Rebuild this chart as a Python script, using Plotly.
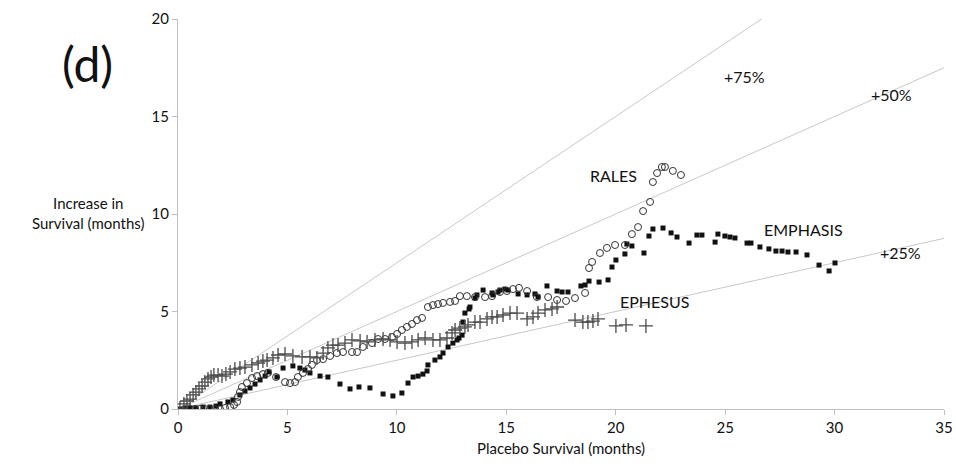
import plotly.graph_objects as go

# EMPHASIS (filled squares)
emph_x = [0.09, 0.32, 0.55, 0.82, 1.14, 1.46, 1.74, 1.92, 2.28, 2.51, 2.83, 3.06, 3.29, 3.52, 3.75, 3.98, 4.16,
          4.52, 4.80, 5.25, 5.57, 5.80, 6.03, 6.49, 6.85, 7.40, 7.86, 8.27, 8.77, 9.37, 9.82, 10.23, 10.51, 10.74,
          10.97, 11.19, 11.38, 11.42, 11.74, 11.97, 12.11, 12.34, 12.56, 12.75, 12.84, 12.98, 13.02, 13.11, 13.30,
          13.34, 13.57, 13.66, 13.94, 14.35, 14.39, 14.62, 14.71, 14.94, 15.08, 15.54, 15.95, 16.31, 16.45, 16.86,
          17.32, 17.55, 17.82, 18.41, 18.60, 18.78, 19.24, 19.65, 19.83, 20.01, 20.42, 20.51, 20.74, 21.29, 21.52,
          21.70, 22.16, 22.53, 22.80, 23.35, 23.71, 23.94, 24.54, 24.67, 24.99, 25.22, 25.45, 26.00, 26.18, 26.59,
          27.00, 27.32, 27.60, 27.87, 28.24, 28.74, 29.29, 29.75, 30.02]
emph_y = [0.0, 0.05, 0.05, 0.05, 0.1, 0.1, 0.15, 0.26, 0.36, 0.46, 0.72, 0.92, 1.08, 1.28, 1.49, 1.69, 1.90,
          1.64, 2.10, 2.21, 2.10, 2.00, 1.85, 1.69, 1.64, 1.28, 1.03, 1.13, 1.08, 0.77, 0.67, 0.82, 1.33, 1.64,
          1.69, 1.79, 1.95, 2.26, 2.51, 2.67, 2.87, 3.18, 3.38, 3.54, 3.64, 3.79, 4.46, 4.92, 5.13,
          5.23, 5.69, 5.85, 6.10, 5.95, 5.85, 6.00, 6.10, 6.15, 6.10, 5.90, 5.85, 5.90, 5.74, 6.31,
          6.05, 6.00, 6.00, 6.31, 6.36, 6.56, 6.51, 6.62, 7.28, 7.64, 7.95, 8.46, 8.36, 8.00, 8.87,
          9.23, 9.28, 9.03, 8.82, 8.51, 8.92, 8.92, 8.56, 8.97, 8.87, 8.82, 8.77, 8.51, 8.51, 8.31,
          8.21, 8.10, 8.10, 8.05, 8.05, 7.90, 7.38, 7.08, 7.49]

# RALES (open circles)
rales_x = [0.55, 0.78, 1.01, 1.23, 1.46, 1.69, 1.92, 2.15, 2.38, 2.56, 2.70, 2.74, 2.83, 2.92, 3.15, 3.38, 3.61,
           3.88, 4.11, 4.48, 4.89, 5.12, 5.35, 5.48, 5.71, 5.94, 6.12, 6.35, 6.63, 6.95, 7.26, 7.54, 7.95, 8.18,
           8.45, 8.86, 9.14, 9.46, 9.78, 10.01, 10.23, 10.46, 10.69, 10.92, 11.15, 11.42, 11.65, 11.88, 12.11,
           12.43, 12.66, 12.88, 13.20, 13.57, 14.03, 14.35, 14.71, 15.03, 15.31, 15.58, 15.95, 16.40, 16.91,
           17.32, 17.73, 18.14, 18.60, 18.78, 18.92, 19.28, 19.60, 19.97, 20.42, 20.74, 21.02, 21.25, 21.57,
           21.70, 21.89, 22.11, 22.25, 22.61, 22.98]
rales_y = [0, 0, 0, 0, 0, 0, 0, 0.05, 0.10, 0.21, 0.36, 0.62, 0.87, 1.13, 1.33, 1.59, 1.69,
           1.79, 1.85, 1.64, 1.38, 1.33, 1.38, 1.64, 1.85, 2.05, 2.26, 2.51, 2.56, 2.72, 2.87, 2.92, 2.92, 2.92,
           3.18, 3.38, 3.59, 3.59, 3.69, 3.85, 4.05, 4.21, 4.36, 4.56, 4.67, 5.23, 5.33, 5.38, 5.44,
           5.49, 5.54, 5.79, 5.79, 5.74, 5.74, 5.79, 6.00, 6.05, 6.15, 6.21, 6.05, 5.74, 5.74,
           5.59, 5.54, 5.69, 5.95, 7.23, 7.54, 8.00, 8.26, 8.41, 8.41, 8.97, 9.33, 10.15, 10.62,
           11.64, 12.10, 12.41, 12.41, 12.21, 12.00]

# EPHESUS (plus signs)
eph_x = [0.09, 0.27, 0.41, 0.55, 0.69, 0.82, 0.96, 1.10, 1.23, 1.37, 1.51, 1.64, 1.83, 2.01, 2.19, 2.38, 2.60,
         2.83, 3.06, 3.38, 3.66, 3.88, 4.07, 4.34, 4.57, 4.89, 5.25, 5.67, 6.03, 6.35, 6.63, 6.85, 7.08, 7.31,
         7.63, 7.95, 8.32, 8.64, 9.00, 9.37, 9.69, 10.01, 10.37, 10.69, 10.97, 11.29, 11.65, 11.97, 12.29,
         12.52, 12.66, 12.88, 13.11, 13.25, 13.57, 13.80, 14.12, 14.35, 14.58, 14.85, 15.17, 15.49, 15.95,
         16.22, 16.45, 16.77, 17.09, 17.32, 18.14, 18.50, 18.73, 18.96, 19.19, 20.01, 20.47, 21.38]
eph_y = [0.05, 0.26, 0.41, 0.51, 0.72, 0.87, 1.03, 1.18, 1.38, 1.54, 1.64, 1.74, 1.74, 1.69, 1.79, 1.90, 2.05,
         2.10, 2.15, 2.26, 2.36, 2.46, 2.51, 2.62, 2.77, 2.82, 2.72, 2.67, 2.67, 2.62, 2.87, 3.13, 3.28, 3.28,
         3.38, 3.54, 3.49, 3.44, 3.54, 3.59, 3.54, 3.44, 3.38, 3.44, 3.54, 3.64, 3.54, 3.54, 3.64,
         3.90, 4.05, 4.15, 4.21, 4.31, 4.46, 4.46, 4.62, 4.72, 4.72, 4.82, 4.92, 4.92, 4.62,
         4.72, 4.92, 5.08, 5.13, 5.23, 4.56, 4.46, 4.46, 4.51, 4.62, 4.26, 4.31, 4.26]

# reference lines: increase = pct * placebo survival
ref_pcts = [0.25, 0.50, 0.75]
ref_labels = ["+25%", "+50%", "+75%"]
ref_label_pos = [(33.0, 8.05), (32.6, 16.15), (25.9, 17.03)]

trial_labels = ["RALES", "EMPHASIS", "EPHESUS"]
trial_label_pos = [(19.88, 12.0), (28.56, 9.23), (21.75, 5.49)]

FONT = "Lato, 'Open Sans', sans-serif"

fig = go.Figure()

for p in ref_pcts:
    fig.add_trace(go.Scatter(x=[0, 35], y=[0, 35 * p], mode="lines",
                             line=dict(color="#c8c8c8", width=1), hoverinfo="skip"))

fig.add_trace(go.Scatter(x=emph_x, y=emph_y, mode="markers", name="EMPHASIS",
                         marker=dict(symbol="square", size=5, color="#111111")))
fig.add_trace(go.Scatter(x=rales_x, y=rales_y, mode="markers", name="RALES",
                         marker=dict(symbol="circle-open", size=7, color="#333333",
                                     line=dict(color="#333333", width=1))))
fig.add_trace(go.Scatter(x=eph_x, y=eph_y, mode="markers", name="EPHESUS",
                         marker=dict(symbol="cross-thin-open", size=10, color="#4a4a4a",
                                     line=dict(color="#4a4a4a", width=1.3))))

for lab, (ax, ay) in zip(ref_labels, ref_label_pos):
    fig.add_annotation(x=ax, y=ay, text=lab, showarrow=False,
                       font=dict(size=16, color="#111111", family=FONT))
for lab, (ax, ay) in zip(trial_labels, trial_label_pos):
    fig.add_annotation(x=ax, y=ay, text=lab, showarrow=False,
                       font=dict(size=16, color="#111111", family=FONT))

fig.add_annotation(xref="paper", yref="paper", x=-0.1175, y=0.5026,
                   xanchor="center", yanchor="middle",
                   text="Increase in<br>Survival (months)", showarrow=False, align="center",
                   font=dict(size=15, color="#111111", family=FONT))
fig.add_annotation(xref="paper", yref="paper", x=-0.1175, y=0.887,
                   xanchor="center", yanchor="middle",
                   text="(d)", showarrow=False,
                   font=dict(size=48, color="#111111", family=FONT))

fig.update_layout(
    width=956, height=466,
    margin=dict(l=178, r=12, t=19, b=57, autoexpand=False),
    plot_bgcolor="white", paper_bgcolor="white",
    showlegend=False,
    font=dict(family=FONT, size=15, color="#111111"),
)
fig.update_xaxes(range=[0, 35], dtick=5, showgrid=False, zeroline=False, automargin=False,
                 showline=True, linecolor="#bfbfbf", linewidth=1,
                 ticks="outside", ticklen=5, tickcolor="#bfbfbf",
                 title=dict(text="Placebo Survival (months)", font=dict(size=15), standoff=8))
fig.update_yaxes(range=[0, 20], dtick=5, showgrid=False, zeroline=False, automargin=False,
                 showline=True, linecolor="#bfbfbf", linewidth=1,
                 ticks="outside", ticklen=5, tickcolor="#bfbfbf")

# drop the default 8px page margin and any scrollbars so the figure fills the window
fig.write_html("out.html", config={"displayModeBar": False},
               post_script="document.body.style.margin='0';document.body.style.overflow='hidden';")
